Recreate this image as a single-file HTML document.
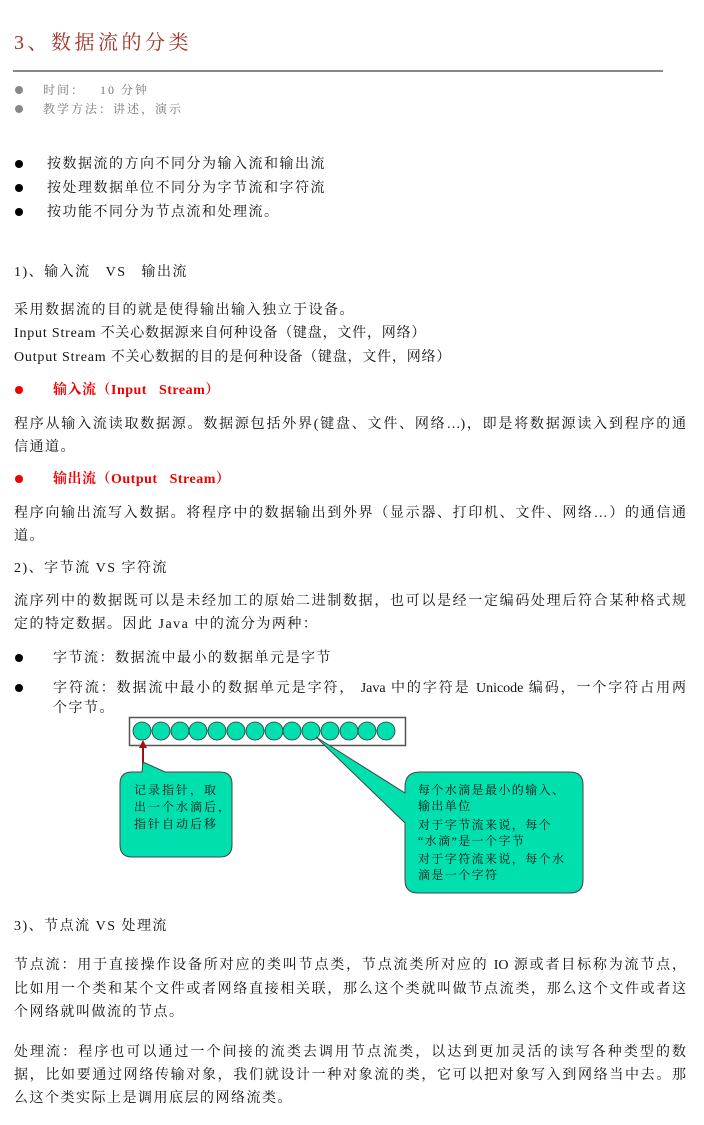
<!DOCTYPE html>
<html><head><meta charset="utf-8"><style>
body{margin:0;width:704px;height:1125px;background:#fff;position:relative;overflow:hidden;font-family:"Liberation Serif","Noto Serif CJK SC",serif;color:#111;}
.l{position:absolute;left:14px;font-size:14px;line-height:18px;white-space:nowrap;letter-spacing:1.5px;margin-top:3px;}
.j{width:672px;white-space:normal;text-align:justify;text-align-last:justify;letter-spacing:0;}
.b{position:absolute;width:8px;height:8px;border-radius:50%;background:#000;margin-top:2px;}
.g{color:#777;font-size:12px;letter-spacing:2px;}
.r{color:#e00;font-weight:bold;letter-spacing:0.5px;}
</style></head><body>
<div class="l" style="top:27px;font-size:20px;line-height:26px;color:#a0332a;letter-spacing:3.5px">3、数据流的分类</div>
<div style="position:absolute;left:13px;top:70px;width:650px;height:2px;background:#888"></div>
<div class="b" style="left:15px;top:84px;background:#888"></div>
<div class="l g" style="left:43px;top:78px">时间：&nbsp;&nbsp;&nbsp;10 分钟</div>
<div class="b" style="left:15px;top:103px;background:#888"></div>
<div class="l g" style="left:43px;top:97px">教学方法：讲述，演示</div>

<div class="b" style="left:15px;top:158px"></div>
<div class="l" style="left:47px;top:153px">按数据流的方向不同分为输入流和输出流</div>
<div class="b" style="left:15px;top:182px"></div>
<div class="l" style="left:47px;top:177px">按处理数据单位不同分为字节流和字符流</div>
<div class="b" style="left:15px;top:206px"></div>
<div class="l" style="left:47px;top:201px">按功能不同分为节点流和处理流。</div>

<div class="l" style="top:261px">1)、输入流&nbsp;&nbsp;&nbsp;VS&nbsp;&nbsp;&nbsp;输出流</div>
<div class="l" style="top:299px">采用数据流的目的就是使得输出输入独立于设备。</div>
<div class="l" style="top:322px;letter-spacing:0.8px">Input Stream 不关心数据源来自何种设备（键盘，文件，网络）</div>
<div class="l" style="top:346px;letter-spacing:0.8px">Output Stream 不关心数据的目的是何种设备（键盘，文件，网络）</div>
<div class="b" style="left:15px;top:384px;background:#e00"></div>
<div class="l r" style="left:53px;top:379px">输入流（Input&nbsp;&nbsp;&nbsp;Stream）</div>
<div class="l j" style="top:413px">程序从输入流读取数据源。数据源包括外界(键盘、文件、网络…)，即是将数据源读入到程序的通</div>
<div class="l" style="top:436px">信通道。</div>
<div class="b" style="left:15px;top:473px;background:#e00"></div>
<div class="l r" style="left:53px;top:468px">输出流（Output&nbsp;&nbsp;&nbsp;Stream）</div>
<div class="l j" style="top:502px">程序向输出流写入数据。将程序中的数据输出到外界（显示器、打印机、文件、网络…）的通信通</div>
<div class="l" style="top:525px">道。</div>
<div class="l" style="top:557px">2)、字节流 VS 字符流</div>
<div class="l j" style="top:590px">流序列中的数据既可以是未经加工的原始二进制数据，也可以是经一定编码处理后符合某种格式规</div>
<div class="l" style="top:613px">定的特定数据。因此 Java 中的流分为两种：</div>
<div class="b" style="left:15px;top:652px"></div>
<div class="l" style="left:53px;top:647px">字节流：数据流中最小的数据单元是字节</div>
<div class="b" style="left:15px;top:682px"></div>
<div class="l" style="left:53px;top:677px;width:633px;white-space:normal;text-align:justify;text-align-last:justify;letter-spacing:0">字符流：数据流中最小的数据单元是字符， Java 中的字符是 Unicode 编码，一个字符占用两</div>
<div class="l" style="left:53px;top:697px">个字节。</div>

<svg style="position:absolute;left:0;top:0" width="704" height="1125">
<rect x="129.5" y="717.5" width="276" height="28" fill="#fff" stroke="#555" stroke-width="1.5"/>
<g fill="#00dfae" stroke="#333" stroke-width="0.8">
<circle cx="142" cy="731" r="9"/><circle cx="161" cy="731" r="9"/><circle cx="180" cy="731" r="9"/><circle cx="198" cy="731" r="9"/><circle cx="217" cy="731" r="9"/><circle cx="236" cy="731" r="9"/><circle cx="255" cy="731" r="9"/><circle cx="274" cy="731" r="9"/><circle cx="292" cy="731" r="9"/><circle cx="311" cy="731" r="9"/><circle cx="330" cy="731" r="9"/><circle cx="349" cy="731" r="9"/><circle cx="367" cy="731" r="9"/><circle cx="386" cy="731" r="9"/>
</g>
<line x1="143" y1="765" x2="143" y2="746" stroke="#a01010" stroke-width="2"/>
<polygon points="143,740 139,748 147,748" fill="#a01010"/>
<path d="M132,772 L142,772 L143,762 L165,772 L220,772 Q232,772 232,784 L232,845 Q232,857 220,857 L132,857 Q120,857 120,845 L120,784 Q120,772 132,772 Z" fill="#00dfae" stroke="#444" stroke-width="1"/>
<path d="M420,772 L570,772 Q583,772 583,785 L583,880 Q583,893 570,893 L418,893 Q405,893 405,880 L405,823 L316,737 L405,793 L405,787 Q405,772 420,772 Z" fill="#00dfae" stroke="#444" stroke-width="1"/>
<g font-family="'Liberation Serif','Noto Serif CJK SC',serif" font-size="12" fill="#111">
<g letter-spacing="2">
<text x="134" y="794">记录指针，取</text>
<text x="134" y="811">出一个水滴后，</text>
<text x="134" y="828">指针自动后移</text>
</g>
<g letter-spacing="1.4">
<text x="418" y="794">每个水滴是最小的输入、</text>
<text x="418" y="810">输出单位</text>
<text x="418" y="829">对于字节流来说，每个</text>
<text x="418" y="845">“水滴”是一个字节</text>
<text x="418" y="863">对于字符流来说，每个水</text>
<text x="418" y="879">滴是一个字符</text>
</g>
</g>
</svg>

<div class="l" style="top:915px">3)、节点流 VS 处理流</div>
<div class="l j" style="top:954px">节点流：用于直接操作设备所对应的类叫节点类，节点流类所对应的 IO 源或者目标称为流节点，</div>
<div class="l j" style="top:978px">比如用一个类和某个文件或者网络直接相关联，那么这个类就叫做节点流类，那么这个文件或者这</div>
<div class="l" style="top:1001px">个网络就叫做流的节点。</div>
<div class="l j" style="top:1041px">处理流：程序也可以通过一个间接的流类去调用节点流类，以达到更加灵活的读写各种类型的数</div>
<div class="l j" style="top:1064px">据，比如要通过网络传输对象，我们就设计一种对象流的类，它可以把对象写入到网络当中去。那</div>
<div class="l" style="top:1087px">么这个类实际上是调用底层的网络流类。</div>
</body></html>
